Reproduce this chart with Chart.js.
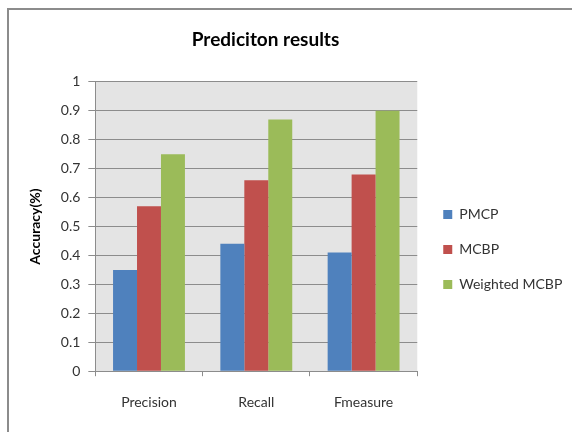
<!DOCTYPE html>
<html>
<head>
<meta charset="utf-8">
<script src="https://cdn.jsdelivr.net/npm/chart.js@4"></script>
<style>
  body { margin: 0; background: #fff; }
  #frame { position: absolute; left: 7px; top: 8px; width: 700px; height: 600px; border-left: 2px solid #8c8c8c; border-top: 2px solid #8c8c8c; }
  #wrap { position: absolute; left: 0; top: 0; width: 572px; height: 432px; }
  #warm { position: absolute; left: -9999px; top: 0; font-family: Lato; font-size: 14px; }
</style>
</head>
<body>
<div id="frame"></div>
<div id="warm">Weighted MCBP <b>Prediciton results</b></div>
<div id="wrap"><canvas id="chart" width="572" height="432"></canvas></div>
<script>
// data
var categories = ['Precision', 'Recall', 'Fmeasure'];
var pmcp = [0.35, 0.44, 0.41];
var mcbp = [0.57, 0.66, 0.68];
var weightedMcbp = [0.75, 0.87, 0.90];
var seriesNames = ['PMCP', 'MCBP', 'Weighted MCBP'];

// grey plot background + small nudges of the title and legend boxes
var plotBg = {
  id: 'plotBg',
  afterLayout: function(chart) {
    chart.titleBlock.left -= 18; chart.titleBlock.right -= 18;
    chart.legend.left += 5; chart.legend.right += 15;
    chart.legend.width = chart.legend.right - chart.legend.left;
  },
  beforeDraw: function(chart) {
    var a = chart.chartArea;
    var ctx = chart.ctx;
    ctx.save();
    ctx.fillStyle = '#e4e4e4';
    ctx.fillRect(a.left, a.top, a.right - a.left, a.bottom - a.top);
    ctx.restore();
  }
};

function makeChart() {
  var ctx = document.getElementById('chart').getContext('2d');
  var myChart = new Chart(ctx, {
    type: 'bar',
    data: {
      labels: categories,
      datasets: [
        { label: seriesNames[0], data: pmcp, backgroundColor: '#4f81bd' },
        { label: seriesNames[1], data: mcbp, backgroundColor: '#c0504d' },
        { label: seriesNames[2], data: weightedMcbp, backgroundColor: '#9bbb59' }
      ]
    },
    plugins: [plotBg],
    options: {
      responsive: false,
      animation: false,
      layout: { padding: { left: 16, right: 21, top: 10, bottom: 3 } },
      datasets: { bar: { categoryPercentage: 0.67, barPercentage: 1.0 } },
      plugins: {
        title: {
          display: true,
          text: 'Prediciton results',
          color: '#000',
          font: { family: 'Lato', size: 19, weight: 'bold' },
          padding: { top: 18, bottom: 31 }
        },
        legend: {
          position: 'right',
          title: { display: true, text: '', padding: { top: 59, bottom: 0 }, font: { size: 1 } },
          labels: {
            boxWidth: 9,
            boxHeight: 9,
            padding: 21,
            color: '#333',
            font: { family: 'Lato', size: 14 }
          }
        },
        tooltip: { enabled: false }
      },
      scales: {
        x: {
          grid: { drawOnChartArea: false, drawTicks: true, tickLength: 5, color: '#8c8c8c' },
          border: { color: '#8c8c8c' },
          ticks: { color: '#333', padding: 18, font: { family: 'Lato', size: 14 } }
        },
        y: {
          min: 0,
          max: 1,
          ticks: {
            stepSize: 0.1,
            color: '#333',
            padding: 8,
            font: { family: 'Lato', size: 14 },
            callback: function(v) { return String(Number(v.toFixed(2))); }
          },
          grid: { color: '#8c8c8c', tickLength: 7 },
          border: { color: '#8c8c8c' },
          title: {
            display: true,
            text: 'Accuracy(%)',
            color: '#000',
            font: { family: 'Lato', size: 14, weight: 'bold' },
            padding: { top: 11, bottom: 9 }
          }
        }
      }
    }
  });
}

document.fonts.ready.then(makeChart);
</script>
</body>
</html>
